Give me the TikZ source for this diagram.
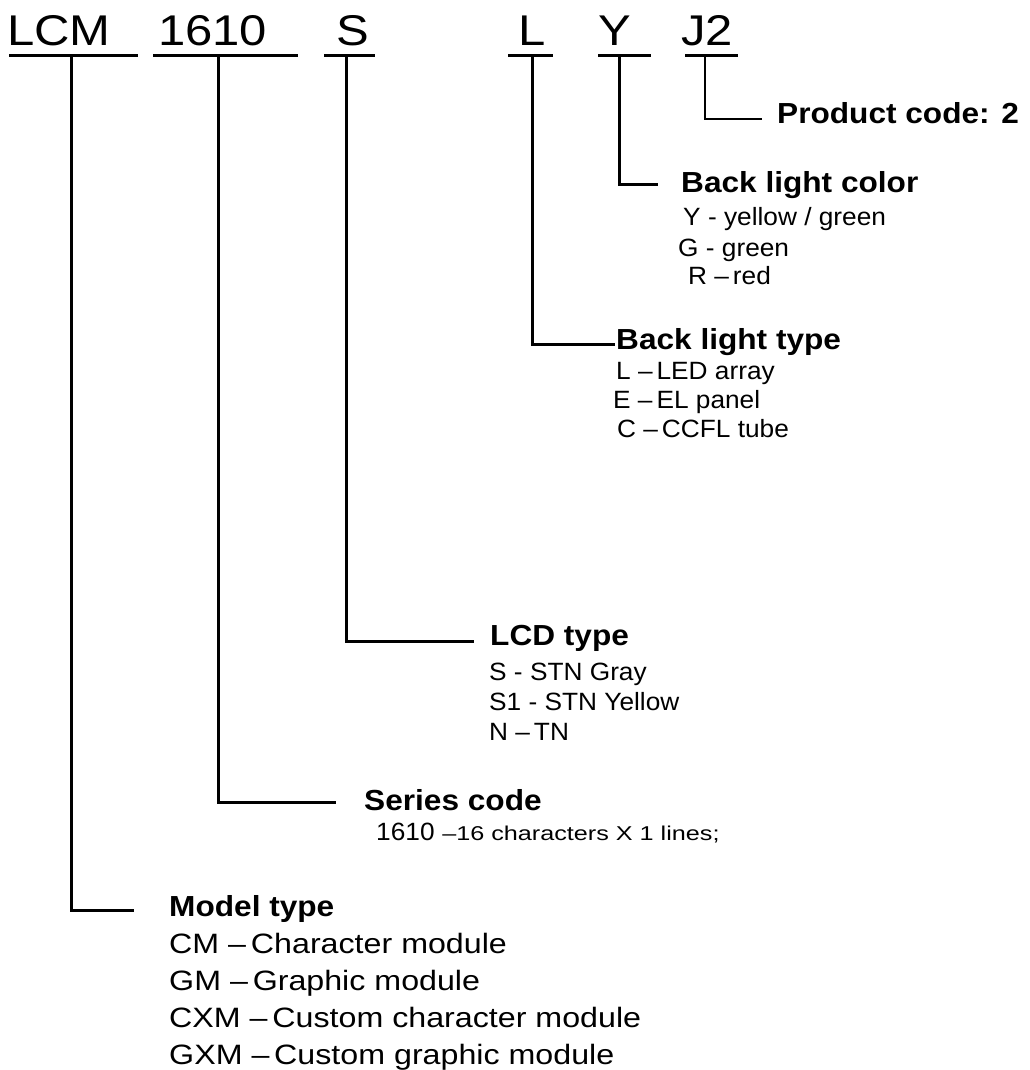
\documentclass[tikz,border=0pt]{standalone}
\usepackage{fontspec}
\setmainfont{Liberation Sans}
\begin{document}
\begin{tikzpicture}[x=1pt,y=-1pt,
  toptxt/.style={anchor=base west, inner sep=0pt, font=\fontsize{43}{50}\selectfont, xscale=1.14},
  hdr/.style={anchor=base west, inner sep=0pt, font=\fontsize{29}{34}\selectfont\bfseries, xscale=1.09},
  subtxt/.style={anchor=base west, inner sep=0pt, font=\fontsize{25}{30}\selectfont, xscale=1.05},
  smalltxt/.style={anchor=base west, inner sep=0pt, font=\fontsize{20}{24}\selectfont, xscale=1.26},
  modtxt/.style={anchor=base west, inner sep=0pt, font=\fontsize{28}{33}\selectfont, xscale=1.15},
  thk/.style={line width=3pt},
  thn/.style={line width=1.5pt}]
\useasboundingbox (0,0) rectangle (1029,1070);

% top row codes
\node[toptxt] (tLCM) at (7,46) {LCM};
\node[toptxt] (t1610) at (158,46) {1610};
\node[toptxt] (tS) at (336,46) {S};
\node[toptxt] (tL) at (518,46) {L};
\node[toptxt] (tY) at (598,46) {Y};
\node[toptxt] (tJ) at (681,46) {J2};

% underlines
\coordinate (uA1) at (9,56);   \coordinate (uA2) at (138,56);
\coordinate (uB1) at (153,56); \coordinate (uB2) at (298,56);
\coordinate (uC1) at (324,56); \coordinate (uC2) at (375,56);
\coordinate (uD1) at (508,56); \coordinate (uD2) at (553,56);
\coordinate (uE1) at (598,56); \coordinate (uE2) at (651,56);
\coordinate (uF1) at (685,56); \coordinate (uF2) at (738,56);
\foreach \u in {A,B,C,D,E,F} \draw[thk] (u\u1) -- (u\u2);

% stems
\coordinate (sA) at (71,56);
\coordinate (sB) at (218,56);
\coordinate (sC) at (346,56);
\coordinate (sD) at (532,56);
\coordinate (sE) at (619,56);
\coordinate (sF) at (705,56);

% ends of connectors
\coordinate (eA) at (134,910);
\coordinate (eB) at (336,802);
\coordinate (eC) at (474,641);
\coordinate (eD) at (615,344);
\coordinate (eE) at (658,184);
\coordinate (eF) at (762,119);

\draw[thk] (sA) |- (eA);
\draw[thk] (sB) |- (eB);
\draw[thk] (sC) |- (eC);
\draw[thk] (sD) |- (eD);
\draw[thk] (sE) |- (eE);
\draw[thn] (sF) |- (eF);

% product code
\node[hdr] (hF) at (777,124) {Product code: 2};

% back light color
\node[hdr] (hE) at (681,192) {Back light color};
\node[subtxt] (e1) at (683,225) {Y - yellow / green};
\node[subtxt] (e2) at (678,256) {G - green};
\node[subtxt] (e3) at (688,284) {R --\hspace{0.15em}red};

% back light type
\node[hdr] (hD) at (616,349) {Back light type};
\node[subtxt] (d1) at (616,379) {L --\hspace{0.15em}LED array};
\node[subtxt] (d2) at (613,408) {E --\hspace{0.15em}EL panel};
\node[subtxt] (d3) at (617,437) {C --\hspace{0.15em}CCFL tube};

% LCD type
\node[hdr] (hC) at (490,645) {LCD type};
\node[subtxt] (c1) at (489,680) {S - STN Gray};
\node[subtxt] (c2) at (489,710) {S1 - STN Yellow};
\node[subtxt] (c3) at (489,740) {N --\hspace{0.15em}TN};

% series code
\node[hdr] (hB) at (364,810) {Series code};
\node[subtxt] (b1) at (376,840) {1610};
\node[smalltxt] (b2) at (442,840) {--16 characters X 1 lines;};

% model type
\node[hdr] (hA) at (169,916) {Model type};
\node[modtxt] (a1) at (169,953) {CM --\hspace{0.15em}Character module};
\node[modtxt] (a2) at (169,990) {GM --\hspace{0.15em}Graphic module};
\node[modtxt] (a3) at (169,1027) {CXM --\hspace{0.15em}Custom character module};
\node[modtxt] (a4) at (169,1064) {GXM --\hspace{0.15em}Custom graphic module};
\end{tikzpicture}
\end{document}
